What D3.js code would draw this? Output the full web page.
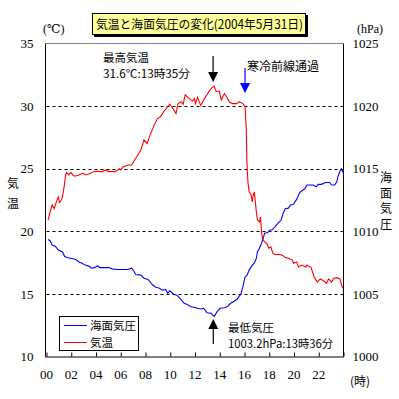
<!DOCTYPE html>
<html><head><meta charset="utf-8">
<script src="https://cdn.jsdelivr.net/npm/d3@7"></script>
<style>
body{margin:0;background:#fff;}
svg{display:block;}
</style></head>
<body>
<svg id="c" width="399" height="399"></svg>
<script>
// ---- data (time in minutes since 00:00) ----
const tempTimes = [10,20,30,40,50,60,65,75,80,90,95,100,110,120,130,140,160,180,190,205,230,245,270,290,305,320,335,355,360,375,400,415,425,440,460,475,490,505,525,540,555,570,590,600,610,630,640,655,665,675,695,710,720,725,735,750,765,780,800,815,825,840,850,865,875,890,905,925,935,955,965,971,974,979,985,995,1000,1005,1010,1020,1025,1035,1040,1045,1050,1060,1070,1080,1090,1100,1110,1130,1145,1160,1175,1195,1200,1215,1225,1240,1260,1265,1285,1300,1315,1330,1345,1360,1370,1385,1395,1410,1425,1435,1440];
const tempValues = [20.9,21.55,22.1,21.8,22.35,22.75,22.3,22.5,22.75,23.8,24.5,24.7,24.5,24.7,24.5,24.4,24.5,24.65,24.5,24.55,24.75,24.8,24.75,24.9,24.75,24.8,24.75,25.0,24.9,25.15,25.3,25.3,25.55,25.95,26.5,27.3,27.0,27.7,28.5,29.0,29.15,29.55,29.95,30.15,29.95,29.4,30.2,30.35,30.15,30.9,30.6,30.4,30.6,30.2,30.7,30.05,30.5,30.9,31.4,31.6,31.15,31.2,30.5,31.0,30.75,30.3,30.2,30.2,30.35,30.2,29.95,28.2,25.55,23.95,23.15,22.9,22.35,22.9,23.15,21.55,20.9,20.75,21.15,19.95,19.4,19.15,19.05,18.65,18.75,18.25,18.15,18.15,18.1,17.9,17.85,17.7,17.45,17.55,17.15,17.3,17.15,17.3,17.1,16.35,15.95,16.2,16.05,15.85,16.2,15.95,16.25,16.3,16.2,15.6,15.45];
const presTimes = [10,20,30,45,60,80,90,100,120,145,160,175,190,210,220,235,250,260,280,305,320,345,370,395,415,425,435,460,475,495,515,530,550,565,580,590,600,620,635,655,670,685,700,725,750,765,780,800,816,830,845,865,880,895,910,925,945,955,965,975,985,1000,1010,1020,1025,1035,1045,1055,1060,1075,1085,1095,1110,1125,1140,1150,1160,1175,1185,1200,1215,1230,1245,1255,1265,1280,1295,1310,1320,1335,1355,1375,1385,1400,1410,1415,1425,1432,1440];
const presValues = [1009.35,1009.25,1008.9,1008.8,1008.5,1008.35,1008.0,1007.9,1007.85,1007.75,1007.55,1007.45,1007.3,1007.2,1007.05,1007.1,1007.25,1007.1,1007.1,1007.1,1007.0,1006.95,1006.95,1006.95,1007.05,1006.85,1006.55,1006.5,1006.25,1006.15,1005.75,1005.55,1005.45,1005.3,1005.35,1005.05,1005.25,1004.95,1004.9,1004.55,1004.25,1004.15,1004.0,1003.9,1003.8,1003.85,1003.5,1003.45,1003.2,1003.6,1003.85,1003.9,1004.0,1004.25,1004.4,1004.55,1005.0,1005.6,1006.35,1006.5,1006.9,1007.3,1007.45,1007.85,1008.35,1008.65,1009.05,1009.55,1009.85,1009.9,1010.1,1010.1,1010.35,1010.65,1010.9,1011.45,1011.8,1011.85,1012.1,1012.15,1012.55,1013.1,1013.3,1013.4,1013.7,1013.7,1013.7,1013.55,1013.75,1013.75,1013.9,1013.9,1013.7,1013.7,1013.95,1014.35,1014.8,1015.0,1014.7];
const xTickValues = [0,120,240,360,480,600,720,840,960,1080,1200,1320,1440];
const xTickLabels = ["00","02","04","06","08","10","12","14","16","18","20","22",""];
const tempTicks = [10,15,20,25,30,35];
const presTicks = [1000,1005,1010,1015,1020,1025];
const gridTemps = [15,20,25,30];
const titleText = "気温と海面気圧の変化(2004年5月31日)";

// ---- layout ----
const JP = '"Noto Sans CJK JP","Noto Sans CJK SC",sans-serif';
const SERIF = '"Liberation Serif","DejaVu Serif",serif';
const svg = d3.select("#c");
const L = 45.5, R = 343.5, T = 43.5, B = 356.5;
const x = d3.scaleLinear().domain([0,1440]).range([46,343]);
const yT = d3.scaleLinear().domain([10,35]).range([B,T]);
const yP = d3.scaleLinear().domain([1000,1025]).range([B,T]);

function jp(sel,size){ return sel.style("font-family",JP).style("font-size",(size||12)+"px").attr("fill","#000"); }
function num(sel,size){ return sel.style("font-family",SERIF).style("font-size",(size||13)+"px").attr("fill","#000"); }

// title box
svg.append("rect").attr("x",94).attr("y",15).attr("width",214).attr("height",22).attr("fill","#000");
svg.append("rect").attr("x",92.5).attr("y",13.5).attr("width",213).attr("height",21).attr("fill","#ffff99").attr("stroke","#000");
jp(svg.append("text"),12.5).attr("x",96).attr("y",28.5).attr("textLength",207).attr("lengthAdjust","spacingAndGlyphs").text(titleText);

// grid
svg.append("g").selectAll("line").data(gridTemps).join("line")
  .attr("x1",L+1).attr("x2",R).attr("y1",d=>Math.round(yT(d))+0.5).attr("y2",d=>Math.round(yT(d))+0.5)
  .attr("stroke","#000").attr("stroke-dasharray","3,3");

// frame
svg.append("line").attr("x1",L).attr("x2",R).attr("y1",T).attr("y2",T).attr("stroke","#808080");
svg.append("line").attr("x1",L).attr("x2",L).attr("y1",T).attr("y2",B).attr("stroke","#000");
svg.append("line").attr("x1",R).attr("x2",R).attr("y1",T).attr("y2",B).attr("stroke","#000");

// x axis
const xa = svg.append("g").attr("transform",`translate(0,${B})`)
  .call(d3.axisBottom(x).tickValues(xTickValues).tickSizeInner(-4).tickSizeOuter(0).tickPadding(13)
  .tickFormat((d,i)=>xTickLabels[i]));
xa.select(".domain").attr("stroke","#000").attr("d",`M${L-0.5},0.5H${R+0.5}`);
xa.selectAll(".tick line").attr("stroke","#000").attr("transform","translate(0.5,0)");
num(xa.selectAll(".tick text"));

// left axis labels
const la = svg.append("g").attr("transform",`translate(${L},0)`)
  .call(d3.axisLeft(yT).tickValues(tempTicks).tickSize(0).tickPadding(12).tickFormat(d3.format("d")));
la.select(".domain").remove();
num(la.selectAll(".tick text"));
// right axis labels
const ra = svg.append("g").attr("transform",`translate(${R},0)`)
  .call(d3.axisRight(yP).tickValues(presTicks).tickSize(0).tickPadding(9).tickFormat(d3.format("d")));
ra.select(".domain").remove();
num(ra.selectAll(".tick text"));

// unit labels
num(svg.append("text"),12).attr("x",43).attr("y",33).text("(℃)");
num(svg.append("text"),12).attr("x",357).attr("y",33).text("(hPa)");
jp(svg.append("text"),12).attr("x",350).attr("y",386).text("(時)");
// axis titles vertical
["気","温"].forEach((c,i)=>jp(svg.append("text")).attr("x",13).attr("y",188+i*20).attr("text-anchor","middle").text(c));
["海","面","気","圧"].forEach((c,i)=>jp(svg.append("text")).attr("x",386).attr("y",182+i*15.5).attr("text-anchor","middle").text(c));

// series
const tempData = tempTimes.map((t,i)=>[t,tempValues[i]]);
const presData = presTimes.map((t,i)=>[t,presValues[i]]);
svg.append("path").datum(presData).attr("fill","none").attr("stroke","#0000ff").attr("stroke-width",1.1)
  .attr("d",d3.line().x(d=>x(d[0])).y(d=>yP(d[1])));
svg.append("path").datum(tempData).attr("fill","none").attr("stroke","#ff0000").attr("stroke-width",1.1)
  .attr("d",d3.line().x(d=>x(d[0])).y(d=>yT(d[1])));

// legend
svg.append("rect").attr("x",59.5).attr("y",316.5).attr("width",79).attr("height",34).attr("fill","#fff").attr("stroke","#000");
svg.append("line").attr("x1",64).attr("x2",87).attr("y1",325.5).attr("y2",325.5).attr("stroke","#0000ff");
svg.append("line").attr("x1",64).attr("x2",87).attr("y1",342.5).attr("y2",342.5).attr("stroke","#ff0000");
jp(svg.append("text"),11.5).attr("x",90).attr("y",330).text("海面気圧");
jp(svg.append("text"),11.5).attr("x",90).attr("y",347).text("気温");

// annotations
function arrow(xc,yTail,yTip,color){
  const dir = yTip>yTail?1:-1;
  svg.append("line").attr("x1",xc).attr("x2",xc).attr("y1",yTail).attr("y2",yTip-dir*9).attr("stroke",color).attr("stroke-width",1.2);
  svg.append("path").attr("d",`M${xc-5},${yTip-dir*10}L${xc+5},${yTip-dir*10}L${xc},${yTip}Z`).attr("fill",color);
}
const tMax = 815, tMin = 816, tFront = 965;
arrow(x(tMax)-1,56,82,"#000");
arrow(x(tFront),68,93,"#0000ff");
arrow(x(tMin)-1,344,319,"#000");
jp(svg.append("text"),11.5).attr("x",103).attr("y",62).text("最高気温");
jp(svg.append("text"),11.5).attr("x",103).attr("y",78).attr("textLength",87).attr("lengthAdjust","spacingAndGlyphs").text("31.6℃:13時35分");
jp(svg.append("text"),12).attr("x",247).attr("y",71).text("寒冷前線通過");
jp(svg.append("text"),11.5).attr("x",228).attr("y",332).text("最低気圧");
jp(svg.append("text"),11.5).attr("x",228).attr("y",348).attr("textLength",105).attr("lengthAdjust","spacingAndGlyphs").text("1003.2hPa:13時36分");
</script>
</body></html>
